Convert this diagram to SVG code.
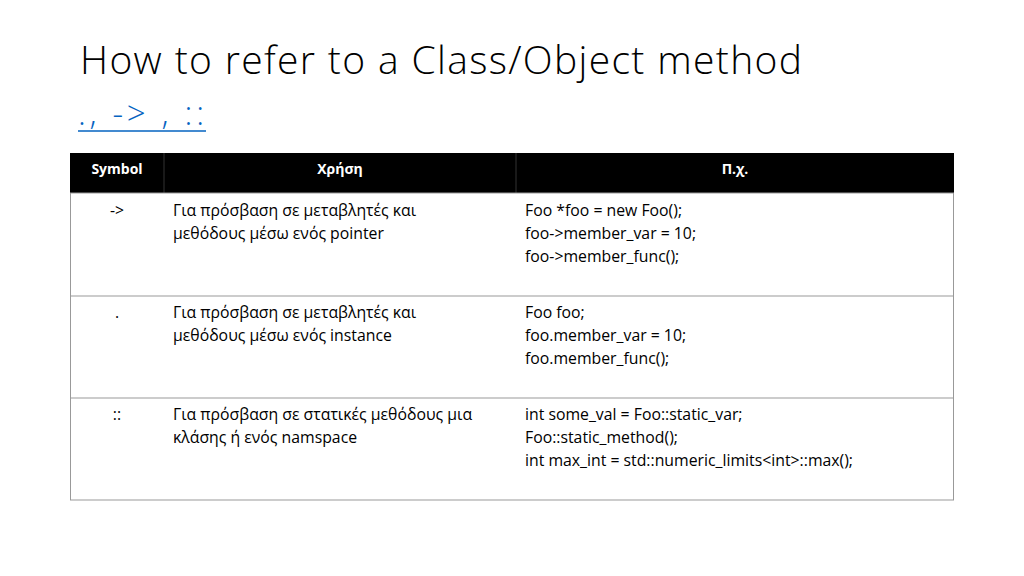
<svg xmlns="http://www.w3.org/2000/svg" width="1024" height="576" viewBox="0 0 1024 576">
<style>
.t{font-family:"Open Sans","Liberation Sans",sans-serif;fill:#000}
.b{font-size:15.8px}
.h{font-size:14px;font-weight:bold;fill:#fff;text-anchor:middle}
</style>
<rect width="1024" height="576" fill="#fff"/>
<text class="t" x="80" y="74" font-size="39" font-weight="300" textLength="722">How to refer to a Class/Object method</text>
<text x="78" y="125" font-family="Open Sans, Liberation Sans, sans-serif" font-size="33" font-weight="300" fill="#0563c1" xml:space="preserve" textLength="126" lengthAdjust="spacing">., -&gt; , ::</text>
<line x1="78" y1="131" x2="206" y2="131" stroke="#0563c1" stroke-width="1.5"/>
<g id="table">
<rect x="70" y="153" width="884" height="40" fill="#000"/>
<line x1="164" y1="153" x2="164" y2="193" stroke="#333"/>
<line x1="516" y1="153" x2="516" y2="193" stroke="#333"/>
<rect x="70.5" y="193" width="883" height="307" fill="none" stroke="#999"/>
<line x1="70" y1="296" x2="954" y2="296" stroke="#999"/>
<line x1="70" y1="398" x2="954" y2="398" stroke="#999"/>
<text class="t h" x="117" y="174">Symbol</text>
<text class="t h" x="340" y="174">Χρήση</text>
<text class="t h" x="735" y="174">Π.χ.</text>
<g class="t b">
<text x="117" y="216" text-anchor="middle">-&gt;</text>
<text x="173" y="216">Για πρόσβαση σε μεταβλητές και</text>
<text x="173" y="239">μεθόδους μέσω ενός pointer</text>
<text x="525" y="216">Foo *foo = new Foo();</text>
<text x="525" y="239">foo-&gt;member_var = 10;</text>
<text x="525" y="262">foo-&gt;member_func();</text>
<text x="117" y="318" text-anchor="middle">.</text>
<text x="173" y="318">Για πρόσβαση σε μεταβλητές και</text>
<text x="173" y="341">μεθόδους μέσω ενός instance</text>
<text x="525" y="318">Foo foo;</text>
<text x="525" y="341">foo.member_var = 10;</text>
<text x="525" y="364">foo.member_func();</text>
<text x="117" y="420" text-anchor="middle">::</text>
<text x="173" y="420">Για πρόσβαση σε στατικές μεθόδους μια</text>
<text x="173" y="443">κλάσης ή ενός namspace</text>
<text x="525" y="420">int some_val = Foo::static_var;</text>
<text x="525" y="443">Foo::static_method();</text>
<text x="525" y="466">int max_int = std::numeric_limits&lt;int&gt;::max();</text>
</g>
</g>
</svg>
